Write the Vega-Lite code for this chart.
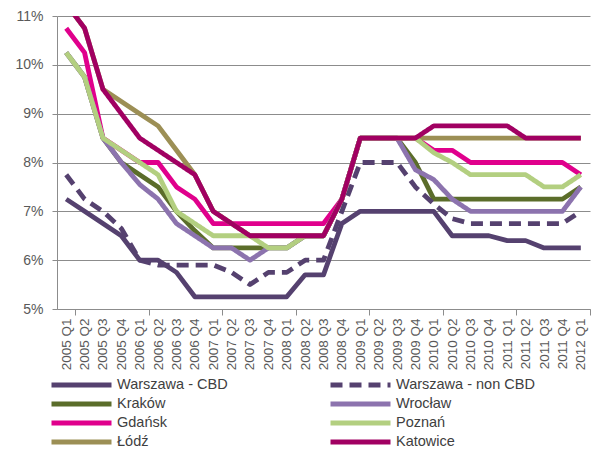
{
  "$schema": "https://vega.github.io/schema/vega-lite/v6.json",
  "width": 533,
  "height": 293,
  "autosize": {"type": "none"},
  "padding": {"left": 57, "top": 16, "right": 2, "bottom": 143},
  "background": "white",
  "config": {"view": {"stroke": null}, "font": "Liberation Sans"},
  "data": {"values": [
    {"q":"2005 Q1","s":"Warszawa - CBD","v":7.25},{"q":"2005 Q2","s":"Warszawa - CBD","v":7.0},{"q":"2005 Q3","s":"Warszawa - CBD","v":6.75},{"q":"2005 Q4","s":"Warszawa - CBD","v":6.5},
    {"q":"2006 Q1","s":"Warszawa - CBD","v":6.0},{"q":"2006 Q2","s":"Warszawa - CBD","v":6.0},{"q":"2006 Q3","s":"Warszawa - CBD","v":5.75},{"q":"2006 Q4","s":"Warszawa - CBD","v":5.25},
    {"q":"2007 Q1","s":"Warszawa - CBD","v":5.25},{"q":"2007 Q2","s":"Warszawa - CBD","v":5.25},{"q":"2007 Q3","s":"Warszawa - CBD","v":5.25},{"q":"2007 Q4","s":"Warszawa - CBD","v":5.25},
    {"q":"2008 Q1","s":"Warszawa - CBD","v":5.25},{"q":"2008 Q2","s":"Warszawa - CBD","v":5.7},{"q":"2008 Q3","s":"Warszawa - CBD","v":5.7},{"q":"2008 Q4","s":"Warszawa - CBD","v":6.75},
    {"q":"2009 Q1","s":"Warszawa - CBD","v":7.0},{"q":"2009 Q2","s":"Warszawa - CBD","v":7.0},{"q":"2009 Q3","s":"Warszawa - CBD","v":7.0},{"q":"2009 Q4","s":"Warszawa - CBD","v":7.0},
    {"q":"2010 Q1","s":"Warszawa - CBD","v":7.0},{"q":"2010 Q2","s":"Warszawa - CBD","v":6.5},{"q":"2010 Q3","s":"Warszawa - CBD","v":6.5},{"q":"2010 Q4","s":"Warszawa - CBD","v":6.5},
    {"q":"2011 Q1","s":"Warszawa - CBD","v":6.4},{"q":"2011 Q2","s":"Warszawa - CBD","v":6.4},{"q":"2011 Q3","s":"Warszawa - CBD","v":6.25},{"q":"2011 Q4","s":"Warszawa - CBD","v":6.25},
    {"q":"2012 Q1","s":"Warszawa - CBD","v":6.25},

    {"q":"2005 Q1","s":"Warszawa - non CBD","v":7.75},{"q":"2005 Q2","s":"Warszawa - non CBD","v":7.25},{"q":"2005 Q3","s":"Warszawa - non CBD","v":7.0},{"q":"2005 Q4","s":"Warszawa - non CBD","v":6.65},
    {"q":"2006 Q1","s":"Warszawa - non CBD","v":6.0},{"q":"2006 Q2","s":"Warszawa - non CBD","v":5.9},{"q":"2006 Q3","s":"Warszawa - non CBD","v":5.9},{"q":"2006 Q4","s":"Warszawa - non CBD","v":5.9},
    {"q":"2007 Q1","s":"Warszawa - non CBD","v":5.9},{"q":"2007 Q2","s":"Warszawa - non CBD","v":5.75},{"q":"2007 Q3","s":"Warszawa - non CBD","v":5.5},{"q":"2007 Q4","s":"Warszawa - non CBD","v":5.75},
    {"q":"2008 Q1","s":"Warszawa - non CBD","v":5.75},{"q":"2008 Q2","s":"Warszawa - non CBD","v":6.0},{"q":"2008 Q3","s":"Warszawa - non CBD","v":6.0},{"q":"2008 Q4","s":"Warszawa - non CBD","v":7.0},
    {"q":"2009 Q1","s":"Warszawa - non CBD","v":8.0},{"q":"2009 Q2","s":"Warszawa - non CBD","v":8.0},{"q":"2009 Q3","s":"Warszawa - non CBD","v":8.0},{"q":"2009 Q4","s":"Warszawa - non CBD","v":7.5},
    {"q":"2010 Q1","s":"Warszawa - non CBD","v":7.15},{"q":"2010 Q2","s":"Warszawa - non CBD","v":6.85},{"q":"2010 Q3","s":"Warszawa - non CBD","v":6.75},{"q":"2010 Q4","s":"Warszawa - non CBD","v":6.75},
    {"q":"2011 Q1","s":"Warszawa - non CBD","v":6.75},{"q":"2011 Q2","s":"Warszawa - non CBD","v":6.75},{"q":"2011 Q3","s":"Warszawa - non CBD","v":6.75},{"q":"2011 Q4","s":"Warszawa - non CBD","v":6.75},
    {"q":"2012 Q1","s":"Warszawa - non CBD","v":7.0},

    {"q":"2005 Q1","s":"Kraków","v":10.25},{"q":"2005 Q2","s":"Kraków","v":9.75},{"q":"2005 Q3","s":"Kraków","v":8.5},{"q":"2005 Q4","s":"Kraków","v":8.0},
    {"q":"2006 Q1","s":"Kraków","v":7.75},{"q":"2006 Q2","s":"Kraków","v":7.5},{"q":"2006 Q3","s":"Kraków","v":7.0},{"q":"2006 Q4","s":"Kraków","v":6.6},
    {"q":"2007 Q1","s":"Kraków","v":6.25},{"q":"2007 Q2","s":"Kraków","v":6.25},{"q":"2007 Q3","s":"Kraków","v":6.25},{"q":"2007 Q4","s":"Kraków","v":6.25},
    {"q":"2008 Q1","s":"Kraków","v":6.25},{"q":"2008 Q2","s":"Kraków","v":6.5},{"q":"2008 Q3","s":"Kraków","v":6.5},{"q":"2008 Q4","s":"Kraków","v":7.25},
    {"q":"2009 Q1","s":"Kraków","v":8.5},{"q":"2009 Q2","s":"Kraków","v":8.5},{"q":"2009 Q3","s":"Kraków","v":8.5},{"q":"2009 Q4","s":"Kraków","v":8.0},
    {"q":"2010 Q1","s":"Kraków","v":7.25},{"q":"2010 Q2","s":"Kraków","v":7.25},{"q":"2010 Q3","s":"Kraków","v":7.25},{"q":"2010 Q4","s":"Kraków","v":7.25},
    {"q":"2011 Q1","s":"Kraków","v":7.25},{"q":"2011 Q2","s":"Kraków","v":7.25},{"q":"2011 Q3","s":"Kraków","v":7.25},{"q":"2011 Q4","s":"Kraków","v":7.25},
    {"q":"2012 Q1","s":"Kraków","v":7.5},

    {"q":"2005 Q1","s":"Wrocław","v":10.25},{"q":"2005 Q2","s":"Wrocław","v":9.75},{"q":"2005 Q3","s":"Wrocław","v":8.5},{"q":"2005 Q4","s":"Wrocław","v":8.0},
    {"q":"2006 Q1","s":"Wrocław","v":7.55},{"q":"2006 Q2","s":"Wrocław","v":7.25},{"q":"2006 Q3","s":"Wrocław","v":6.75},{"q":"2006 Q4","s":"Wrocław","v":6.5},
    {"q":"2007 Q1","s":"Wrocław","v":6.25},{"q":"2007 Q2","s":"Wrocław","v":6.25},{"q":"2007 Q3","s":"Wrocław","v":6.0},{"q":"2007 Q4","s":"Wrocław","v":6.25},
    {"q":"2008 Q1","s":"Wrocław","v":6.25},{"q":"2008 Q2","s":"Wrocław","v":6.5},{"q":"2008 Q3","s":"Wrocław","v":6.5},{"q":"2008 Q4","s":"Wrocław","v":7.25},
    {"q":"2009 Q1","s":"Wrocław","v":8.5},{"q":"2009 Q2","s":"Wrocław","v":8.5},{"q":"2009 Q3","s":"Wrocław","v":8.5},{"q":"2009 Q4","s":"Wrocław","v":7.85},
    {"q":"2010 Q1","s":"Wrocław","v":7.65},{"q":"2010 Q2","s":"Wrocław","v":7.25},{"q":"2010 Q3","s":"Wrocław","v":7.0},{"q":"2010 Q4","s":"Wrocław","v":7.0},
    {"q":"2011 Q1","s":"Wrocław","v":7.0},{"q":"2011 Q2","s":"Wrocław","v":7.0},{"q":"2011 Q3","s":"Wrocław","v":7.0},{"q":"2011 Q4","s":"Wrocław","v":7.0},
    {"q":"2012 Q1","s":"Wrocław","v":7.5},

    {"q":"2005 Q1","s":"Gdańsk","v":10.75},{"q":"2005 Q2","s":"Gdańsk","v":10.25},{"q":"2005 Q3","s":"Gdańsk","v":8.5},{"q":"2005 Q4","s":"Gdańsk","v":8.25},
    {"q":"2006 Q1","s":"Gdańsk","v":8.0},{"q":"2006 Q2","s":"Gdańsk","v":8.0},{"q":"2006 Q3","s":"Gdańsk","v":7.5},{"q":"2006 Q4","s":"Gdańsk","v":7.25},
    {"q":"2007 Q1","s":"Gdańsk","v":6.75},{"q":"2007 Q2","s":"Gdańsk","v":6.75},{"q":"2007 Q3","s":"Gdańsk","v":6.75},{"q":"2007 Q4","s":"Gdańsk","v":6.75},
    {"q":"2008 Q1","s":"Gdańsk","v":6.75},{"q":"2008 Q2","s":"Gdańsk","v":6.75},{"q":"2008 Q3","s":"Gdańsk","v":6.75},{"q":"2008 Q4","s":"Gdańsk","v":7.25},
    {"q":"2009 Q1","s":"Gdańsk","v":8.5},{"q":"2009 Q2","s":"Gdańsk","v":8.5},{"q":"2009 Q3","s":"Gdańsk","v":8.5},{"q":"2009 Q4","s":"Gdańsk","v":8.5},
    {"q":"2010 Q1","s":"Gdańsk","v":8.25},{"q":"2010 Q2","s":"Gdańsk","v":8.25},{"q":"2010 Q3","s":"Gdańsk","v":8.0},{"q":"2010 Q4","s":"Gdańsk","v":8.0},
    {"q":"2011 Q1","s":"Gdańsk","v":8.0},{"q":"2011 Q2","s":"Gdańsk","v":8.0},{"q":"2011 Q3","s":"Gdańsk","v":8.0},{"q":"2011 Q4","s":"Gdańsk","v":8.0},
    {"q":"2012 Q1","s":"Gdańsk","v":7.75},

    {"q":"2005 Q1","s":"Poznań","v":10.25},{"q":"2005 Q2","s":"Poznań","v":9.75},{"q":"2005 Q3","s":"Poznań","v":8.5},{"q":"2005 Q4","s":"Poznań","v":8.25},
    {"q":"2006 Q1","s":"Poznań","v":8.0},{"q":"2006 Q2","s":"Poznań","v":7.75},{"q":"2006 Q3","s":"Poznań","v":7.0},{"q":"2006 Q4","s":"Poznań","v":6.75},
    {"q":"2007 Q1","s":"Poznań","v":6.5},{"q":"2007 Q2","s":"Poznań","v":6.5},{"q":"2007 Q3","s":"Poznań","v":6.5},{"q":"2007 Q4","s":"Poznań","v":6.25},
    {"q":"2008 Q1","s":"Poznań","v":6.25},{"q":"2008 Q2","s":"Poznań","v":6.5},{"q":"2008 Q3","s":"Poznań","v":6.5},{"q":"2008 Q4","s":"Poznań","v":7.25},
    {"q":"2009 Q1","s":"Poznań","v":8.5},{"q":"2009 Q2","s":"Poznań","v":8.5},{"q":"2009 Q3","s":"Poznań","v":8.5},{"q":"2009 Q4","s":"Poznań","v":8.5},
    {"q":"2010 Q1","s":"Poznań","v":8.2},{"q":"2010 Q2","s":"Poznań","v":8.0},{"q":"2010 Q3","s":"Poznań","v":7.75},{"q":"2010 Q4","s":"Poznań","v":7.75},
    {"q":"2011 Q1","s":"Poznań","v":7.75},{"q":"2011 Q2","s":"Poznań","v":7.75},{"q":"2011 Q3","s":"Poznań","v":7.5},{"q":"2011 Q4","s":"Poznań","v":7.5},
    {"q":"2012 Q1","s":"Poznań","v":7.75},

    {"q":"2005 Q1","s":"Łódź","v":11.25},{"q":"2005 Q2","s":"Łódź","v":10.75},{"q":"2005 Q3","s":"Łódź","v":9.5},{"q":"2005 Q4","s":"Łódź","v":9.25},
    {"q":"2006 Q1","s":"Łódź","v":9.0},{"q":"2006 Q2","s":"Łódź","v":8.75},{"q":"2006 Q3","s":"Łódź","v":8.25},{"q":"2006 Q4","s":"Łódź","v":7.75},
    {"q":"2007 Q1","s":"Łódź","v":7.0},{"q":"2007 Q2","s":"Łódź","v":6.75},{"q":"2007 Q3","s":"Łódź","v":6.5},{"q":"2007 Q4","s":"Łódź","v":6.5},
    {"q":"2008 Q1","s":"Łódź","v":6.5},{"q":"2008 Q2","s":"Łódź","v":6.5},{"q":"2008 Q3","s":"Łódź","v":6.5},{"q":"2008 Q4","s":"Łódź","v":7.25},
    {"q":"2009 Q1","s":"Łódź","v":8.5},{"q":"2009 Q2","s":"Łódź","v":8.5},{"q":"2009 Q3","s":"Łódź","v":8.5},{"q":"2009 Q4","s":"Łódź","v":8.5},
    {"q":"2010 Q1","s":"Łódź","v":8.5},{"q":"2010 Q2","s":"Łódź","v":8.5},{"q":"2010 Q3","s":"Łódź","v":8.5},{"q":"2010 Q4","s":"Łódź","v":8.5},
    {"q":"2011 Q1","s":"Łódź","v":8.5},{"q":"2011 Q2","s":"Łódź","v":8.5},{"q":"2011 Q3","s":"Łódź","v":8.5},{"q":"2011 Q4","s":"Łódź","v":8.5},
    {"q":"2012 Q1","s":"Łódź","v":8.5},

    {"q":"2005 Q1","s":"Katowice","v":11.25},{"q":"2005 Q2","s":"Katowice","v":10.75},{"q":"2005 Q3","s":"Katowice","v":9.5},{"q":"2005 Q4","s":"Katowice","v":9.0},
    {"q":"2006 Q1","s":"Katowice","v":8.5},{"q":"2006 Q2","s":"Katowice","v":8.25},{"q":"2006 Q3","s":"Katowice","v":8.0},{"q":"2006 Q4","s":"Katowice","v":7.75},
    {"q":"2007 Q1","s":"Katowice","v":7.0},{"q":"2007 Q2","s":"Katowice","v":6.75},{"q":"2007 Q3","s":"Katowice","v":6.5},{"q":"2007 Q4","s":"Katowice","v":6.5},
    {"q":"2008 Q1","s":"Katowice","v":6.5},{"q":"2008 Q2","s":"Katowice","v":6.5},{"q":"2008 Q3","s":"Katowice","v":6.5},{"q":"2008 Q4","s":"Katowice","v":7.25},
    {"q":"2009 Q1","s":"Katowice","v":8.5},{"q":"2009 Q2","s":"Katowice","v":8.5},{"q":"2009 Q3","s":"Katowice","v":8.5},{"q":"2009 Q4","s":"Katowice","v":8.5},
    {"q":"2010 Q1","s":"Katowice","v":8.75},{"q":"2010 Q2","s":"Katowice","v":8.75},{"q":"2010 Q3","s":"Katowice","v":8.75},{"q":"2010 Q4","s":"Katowice","v":8.75},
    {"q":"2011 Q1","s":"Katowice","v":8.75},{"q":"2011 Q2","s":"Katowice","v":8.5},{"q":"2011 Q3","s":"Katowice","v":8.5},{"q":"2011 Q4","s":"Katowice","v":8.5},
    {"q":"2012 Q1","s":"Katowice","v":8.5}
  ]},
  "encoding": {
    "x": {
      "field": "q", "type": "ordinal", "sort": null,
      "scale": {"type": "band", "paddingInner": 0, "paddingOuter": 0},
      "axis": {
        "title": null, "labelAngle": -90, "labelFontSize": 13.5, "labelColor": "#595959",
        "labelPadding": 3, "tickSize": 6, "tickColor": "#8c8c8c", "tickWidth": 1,
        "tickBand": "extent",
        "tickOpacity": {"condition": {"test": "isString(datum.value) && indexof(datum.value, 'Q1') >= 0", "value": 1}, "value": 0},
        "domainColor": "#8c8c8c", "domainWidth": 1, "grid": false
      }
    },
    "y": {
      "field": "v", "type": "quantitative",
      "scale": {"domain": [5, 11], "nice": false, "zero": false},
      "axis": {
        "title": null, "values": [5, 6, 7, 8, 9, 10, 11], "labelExpr": "datum.value + '%'",
        "labelFontSize": 14, "labelColor": "#595959", "labelPadding": 9,
        "tickSize": 5, "tickColor": "#8c8c8c", "domainColor": "#8c8c8c",
        "grid": true, "gridColor": "#8c8c8c", "gridWidth": 1
      }
    }
  },
  "layer": [
    {
      "transform": [{"filter": {"field": "s", "oneOf": ["Warszawa - CBD", "Kraków", "Gdańsk", "Łódź"]}}],
      "mark": {"type": "line", "strokeWidth": 4.8, "clip": true, "strokeJoin": "round"},
      "encoding": {
        "color": {
          "field": "s", "type": "nominal",
          "scale": {
            "domain": ["Warszawa - CBD", "Kraków", "Gdańsk", "Łódź"],
            "range": ["#55416f", "#5b6d2a", "#e0008c", "#9c8f55"]
          },
          "legend": {
            "title": null, "orient": "none", "legendX": -8, "legendY": 361, "direction": "vertical",
            "symbolType": "stroke", "symbolSize": 3600, "symbolStrokeWidth": 5,
            "clipHeight": 16, "rowPadding": 3,
            "labelFontSize": 14.5, "labelColor": "#404040", "labelOffset": 3, "labelLimit": 300
          }
        }
      }
    },
    {
      "transform": [{"filter": {"field": "s", "oneOf": ["Warszawa - non CBD", "Wrocław", "Poznań", "Katowice"]}}],
      "mark": {"type": "line", "strokeWidth": 4.8, "clip": true, "strokeJoin": "round"},
      "encoding": {
        "stroke": {
          "field": "s", "type": "nominal",
          "scale": {
            "domain": ["Warszawa - non CBD", "Wrocław", "Poznań", "Katowice"],
            "range": ["#55416f", "#8c73ae", "#b3cf80", "#a10062"]
          },
          "legend": {
            "title": null, "orient": "none", "legendX": 271, "legendY": 361, "direction": "vertical",
            "symbolType": "stroke", "symbolSize": 3600, "symbolStrokeWidth": 5,
            "clipHeight": 16, "rowPadding": 3,
            "labelFontSize": 14.5, "labelColor": "#404040", "labelOffset": 3, "labelLimit": 300
          }
        },
        "strokeDash": {
          "field": "s", "type": "nominal",
          "scale": {
            "domain": ["Warszawa - non CBD", "Wrocław", "Poznań", "Katowice"],
            "range": [[12, 7], [1, 0], [1, 0], [1, 0]]
          },
          "legend": {
            "title": null, "orient": "none", "legendX": 271, "legendY": 361, "direction": "vertical",
            "symbolType": "stroke", "symbolSize": 3600, "symbolStrokeWidth": 5,
            "clipHeight": 16, "rowPadding": 3,
            "labelFontSize": 14.5, "labelColor": "#404040", "labelOffset": 3, "labelLimit": 300
          }
        }
      }
    }
  ]
}
